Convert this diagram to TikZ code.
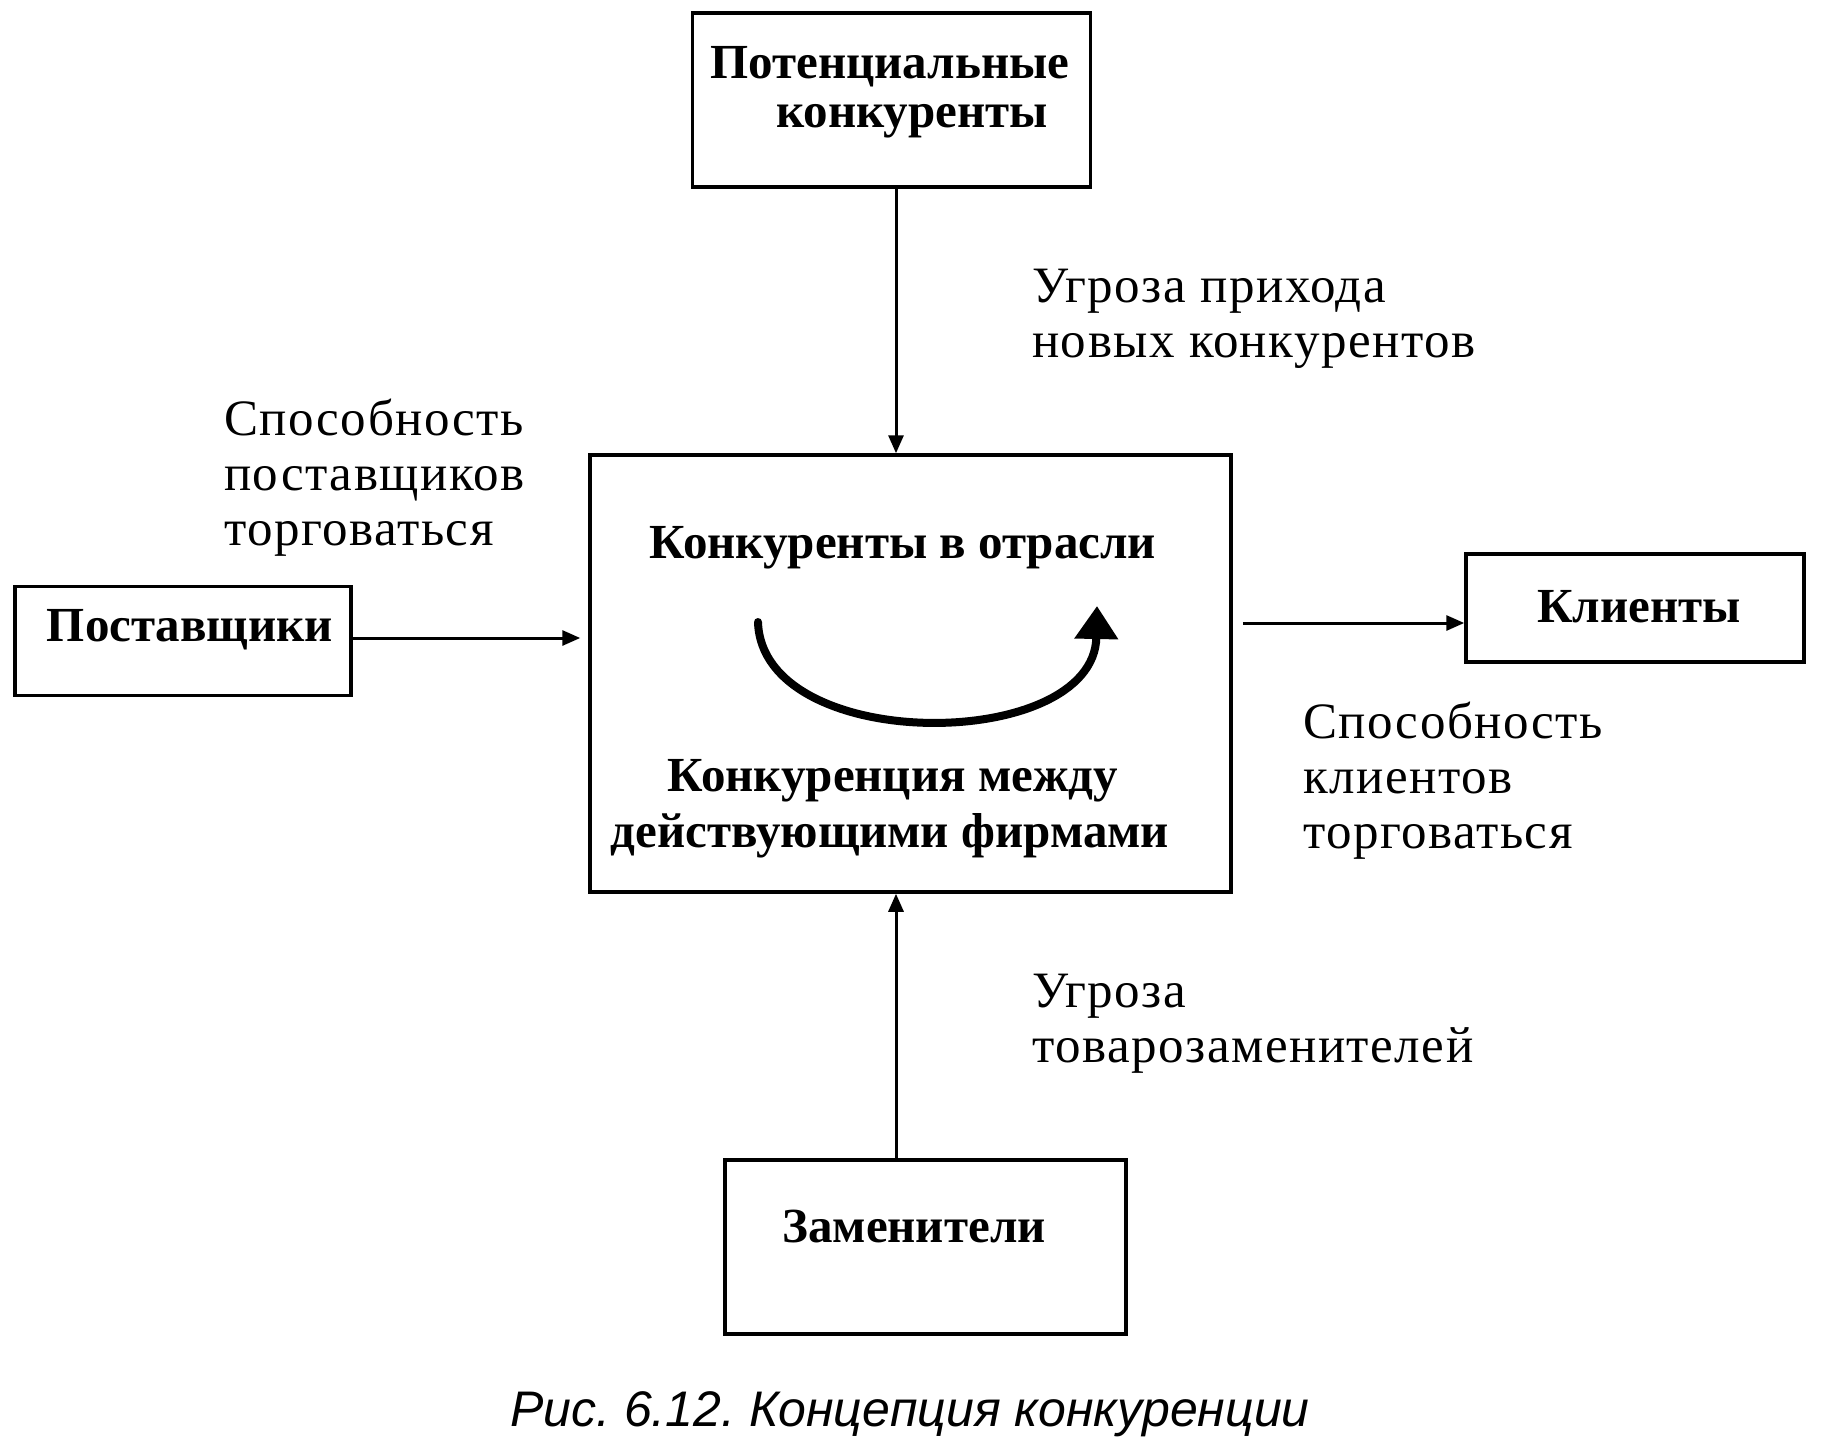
\documentclass[tikz,border=0pt]{standalone}
\usepackage{fontspec}
\setmainfont{Liberation Serif}
\newfontfamily\lblfont[LetterSpace=3]{Liberation Serif}
\newfontfamily\capfont{Liberation Sans}
\usetikzlibrary{arrows.meta}
\frenchspacing
\begin{document}
\begin{tikzpicture}[x=1pt,y=-1pt,
  boxst/.style={draw,line width=3.5pt,rectangle,inner sep=0pt},
  bt/.style={font=\fontsize{49}{56}\selectfont\bfseries,inner sep=0pt},
  lt/.style={font=\lblfont\fontsize{51}{55}\selectfont,inner sep=0pt,align=left,anchor=west},
  arr/.style={line width=3pt,-{Triangle[length=18pt,width=15pt]}}]
\useasboundingbox (0,0) rectangle (1826,1439);
% boxes
\node[boxst,minimum width=398pt,minimum height=174pt] (top) at (891.5,100) {};
\node[boxst,minimum width=641pt,minimum height=437pt] (main) at (910.5,673.5) {};
\node[boxst,minimum width=336pt,minimum height=109pt] (sup) at (183,641) {};
\node[boxst,minimum width=338pt,minimum height=108pt] (cli) at (1635,608) {};
\node[boxst,minimum width=401pt,minimum height=174pt] (sub) at (925.5,1247) {};
% box texts
\node[bt] (t1) at (890,67) {Потенциальные};
\node[bt] (t2) at (912,121) {конкуренты};
\node[bt] (m1) at (903,548) {Конкуренты в отрасли};
\node[bt] (m2) at (893,781) {Конкуренция между};
\node[bt] (m3) at (890,836) {действующими фирмами};
\node[bt] (s1) at (190,630) {Поставщики};
\node[bt] (c1) at (1639,607) {Клиенты};
\node[bt] (z1) at (914,1227) {Заменители};
% labels
\node[lt] (l1) at (1032,319) {Угроза прихода\\новых конкурентов};
\node[lt] (l2) at (224,478) {Способность\\поставщиков\\торговаться};
\node[lt] (l3) at (1303,781) {Способность\\клиентов\\торговаться};
\node[lt] (l4) at (1032,1024) {Угроза\\товарозаменителей};
% connectors
\draw[arr] ([xshift=4.5pt]top.south) -- ([xshift=4.5pt]top.south |- main.north);
\draw[arr] ([xshift=4.5pt]top.south |- sub.north) -- ([xshift=4.5pt]top.south |- main.south);
\draw[arr,shorten >=8pt] ([yshift=3pt]sup.east) -- ([yshift=3pt]sup.east -| main.west);
\draw[arr,shorten <=10pt] ([yshift=-15pt]cli.west -| main.east) -- ([yshift=-15pt]cli.west);
% curved arrow
\coordinate (cs) at (758,622);
\coordinate (ce) at (1097,606);
\draw[line width=8pt,line cap=round,-{Triangle[length=33pt,width=42pt]}]
  (cs) .. controls (762,755) and (1094,753) .. (ce);
% caption
\node[font=\capfont\itshape\fontsize{50}{56}\selectfont,inner sep=0pt] (cap) at (910,1414) {Рис. 6.12. Концепция конкуренции};
\end{tikzpicture}
\end{document}
